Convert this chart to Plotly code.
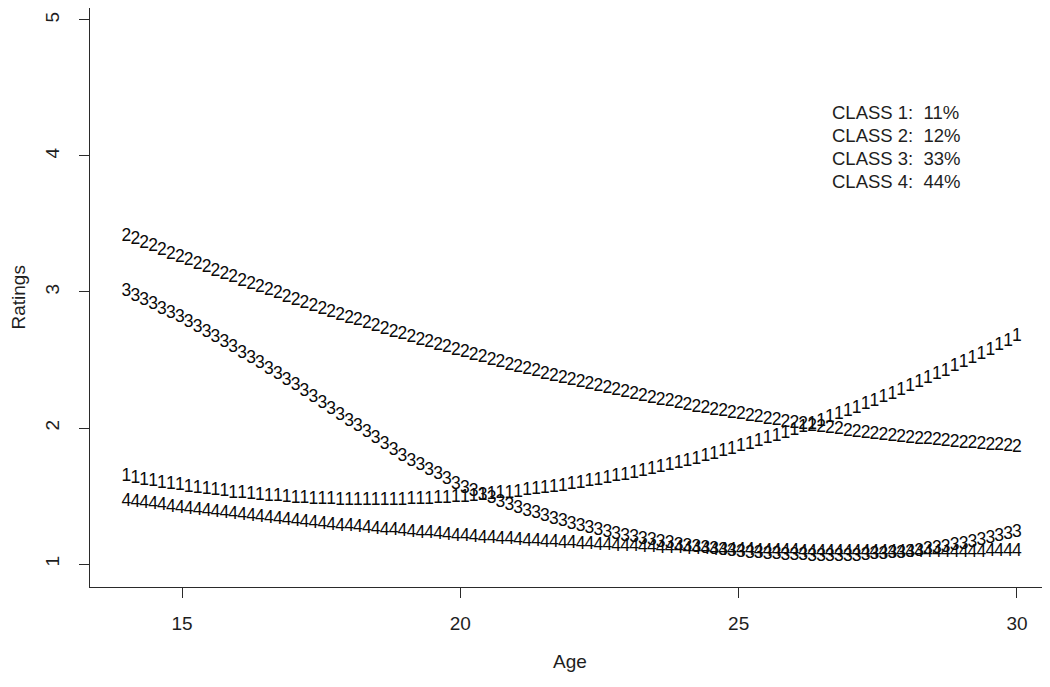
import plotly.graph_objects as go

# ages at which each class trajectory is printed
ages = [14, 14.16, 14.32, 14.48, 14.64, 14.8, 14.96, 15.12, 15.28, 15.44, 15.6, 15.76, 15.92,
        16.08, 16.24, 16.4, 16.56, 16.72, 16.88, 17.04, 17.2, 17.36, 17.52, 17.68, 17.84, 18,
        18.16, 18.32, 18.48, 18.64, 18.8, 18.96, 19.12, 19.28, 19.44, 19.6, 19.76, 19.92, 20.08,
        20.24, 20.4, 20.56, 20.72, 20.88, 21.04, 21.2, 21.36, 21.52, 21.68, 21.84, 22, 22.16,
        22.32, 22.48, 22.64, 22.8, 22.96, 23.12, 23.28, 23.44, 23.6, 23.76, 23.92, 24.08, 24.24,
        24.4, 24.56, 24.72, 24.88, 25.04, 25.2, 25.36, 25.52, 25.68, 25.84, 26, 26.16, 26.32,
        26.48, 26.64, 26.8, 26.96, 27.12, 27.28, 27.44, 27.6, 27.76, 27.92, 28.08, 28.24, 28.4,
        28.56, 28.72, 28.88, 29.04, 29.2, 29.36, 29.52, 29.68, 29.84, 30]

class1 = [1.640, 1.628, 1.616, 1.604, 1.593, 1.583, 1.573, 1.563, 1.554, 1.545, 1.537, 1.529,
          1.521, 1.515, 1.508, 1.502, 1.497, 1.492, 1.487, 1.483, 1.479, 1.476, 1.473, 1.471,
          1.469, 1.468, 1.467, 1.466, 1.466, 1.467, 1.467, 1.469, 1.471, 1.473, 1.476, 1.479,
          1.482, 1.487, 1.491, 1.496, 1.502, 1.508, 1.514, 1.521, 1.528, 1.536, 1.544, 1.553,
          1.562, 1.572, 1.582, 1.592, 1.603, 1.615, 1.626, 1.639, 1.652, 1.665, 1.679, 1.693,
          1.707, 1.722, 1.738, 1.754, 1.771, 1.787, 1.805, 1.823, 1.841, 1.860, 1.879, 1.899,
          1.919, 1.939, 1.960, 1.982, 2.004, 2.026, 2.049, 2.073, 2.096, 2.121, 2.145, 2.171,
          2.196, 2.222, 2.249, 2.276, 2.303, 2.331, 2.360, 2.389, 2.418, 2.448, 2.478, 2.509,
          2.540, 2.571, 2.603, 2.636, 2.669]

class2 = [3.410, 3.383, 3.357, 3.330, 3.304, 3.278, 3.252, 3.227, 3.202, 3.177, 3.152, 3.127,
          3.103, 3.079, 3.055, 3.031, 3.008, 2.985, 2.962, 2.939, 2.916, 2.894, 2.872, 2.850,
          2.829, 2.807, 2.786, 2.765, 2.745, 2.724, 2.704, 2.684, 2.664, 2.645, 2.625, 2.606,
          2.588, 2.569, 2.551, 2.532, 2.514, 2.497, 2.479, 2.462, 2.445, 2.428, 2.412, 2.395,
          2.379, 2.364, 2.348, 2.333, 2.317, 2.302, 2.288, 2.273, 2.259, 2.245, 2.231, 2.218,
          2.204, 2.191, 2.178, 2.166, 2.153, 2.141, 2.129, 2.117, 2.106, 2.095, 2.084, 2.073,
          2.062, 2.052, 2.042, 2.032, 2.022, 2.013, 2.004, 1.995, 1.986, 1.977, 1.969, 1.961,
          1.953, 1.946, 1.938, 1.931, 1.924, 1.918, 1.911, 1.905, 1.899, 1.893, 1.888, 1.882,
          1.877, 1.872, 1.868, 1.863, 1.859]

class3 = [3.000, 2.968, 2.936, 2.904, 2.872, 2.840, 2.808, 2.772, 2.736, 2.699, 2.662, 2.625,
          2.588, 2.550, 2.510, 2.470, 2.430, 2.390, 2.350, 2.309, 2.266, 2.223, 2.180, 2.136,
          2.093, 2.050, 2.007, 1.964, 1.920, 1.877, 1.834, 1.791, 1.755, 1.721, 1.688, 1.654,
          1.620, 1.587, 1.557, 1.532, 1.506, 1.480, 1.455, 1.429, 1.405, 1.386, 1.367, 1.348,
          1.328, 1.309, 1.290, 1.276, 1.261, 1.247, 1.232, 1.218, 1.204, 1.192, 1.180, 1.169,
          1.158, 1.147, 1.136, 1.126, 1.119, 1.112, 1.105, 1.098, 1.090, 1.084, 1.080, 1.076,
          1.072, 1.068, 1.064, 1.060, 1.059, 1.058, 1.058, 1.057, 1.056, 1.055, 1.058, 1.062,
          1.066, 1.070, 1.074, 1.078, 1.085, 1.094, 1.104, 1.114, 1.123, 1.133, 1.144, 1.158,
          1.172, 1.187, 1.201, 1.216, 1.230]

class4 = [1.460, 1.451, 1.443, 1.434, 1.426, 1.417, 1.409, 1.401, 1.393, 1.385, 1.377, 1.369,
          1.362, 1.354, 1.347, 1.340, 1.332, 1.325, 1.318, 1.311, 1.304, 1.298, 1.291, 1.285,
          1.278, 1.272, 1.266, 1.260, 1.254, 1.248, 1.242, 1.236, 1.231, 1.225, 1.220, 1.215,
          1.210, 1.205, 1.200, 1.195, 1.190, 1.185, 1.181, 1.176, 1.172, 1.168, 1.164, 1.160,
          1.156, 1.152, 1.148, 1.144, 1.141, 1.137, 1.134, 1.131, 1.128, 1.125, 1.122, 1.119,
          1.116, 1.114, 1.111, 1.109, 1.107, 1.104, 1.102, 1.100, 1.098, 1.097, 1.095, 1.093,
          1.092, 1.090, 1.089, 1.088, 1.087, 1.086, 1.085, 1.084, 1.084, 1.083, 1.083, 1.082,
          1.082, 1.082, 1.082, 1.082, 1.082, 1.082, 1.083, 1.083, 1.084, 1.084, 1.085, 1.086,
          1.087, 1.088, 1.089, 1.091, 1.092]

class_labels = ["1", "2", "3", "4"]
class_shares = ["CLASS 1:\u00a0\u00a011%", "CLASS 2:\u00a0\u00a012%",
                "CLASS 3:\u00a0\u00a033%", "CLASS 4:\u00a0\u00a044%"]

x_ticks = [15, 20, 25, 30]
y_ticks = [1, 2, 3, 4, 5]

FONT = "Liberation Sans, Arial, Helvetica, sans-serif"
INK = "#1e1e1e"

fig = go.Figure()

for lab, vals in zip(class_labels, [class1, class2, class3, class4]):
    fig.add_trace(go.Scatter(
        x=ages, y=vals, mode="text", text=[lab] * len(ages),
        textposition="middle center",
        textfont=dict(family=FONT, size=17.5, color="#0a0a0a"),
        showlegend=False, hoverinfo="skip",
    ))

# class share "legend" in the upper right
for k, txt in enumerate(class_shares):
    fig.add_annotation(
        xref="paper", yref="paper", x=0.7708, y=(579 - 105 - 22.7 * k) / 579,
        xanchor="left", yanchor="middle", showarrow=False, text=txt,
        font=dict(family=FONT, size=18.5, color=INK),
    )

fig.add_annotation(xref="paper", yref="paper", x=0.5, y=-0.1295, text="Age",
                   showarrow=False, xanchor="center", yanchor="middle",
                   font=dict(family=FONT, size=19, color=INK))
fig.add_annotation(xref="paper", yref="paper", x=-0.075, y=0.5, text="Ratings",
                   showarrow=False, textangle=-90, xanchor="center", yanchor="middle",
                   font=dict(family=FONT, size=19, color=INK))

axis_style = dict(
    showgrid=False, zeroline=False, showline=True, linecolor="#2a2a2a", linewidth=1.4,
    ticks="outside", ticklen=10, tickwidth=1.4, tickcolor="#2a2a2a",
    tickfont=dict(family=FONT, size=19, color=INK),
)

# page body adds an 8px offset, so the figure is sized/margined to compensate
fig.update_layout(
    width=1042, height=679,
    margin=dict(l=82, r=0, t=0, b=100, pad=0),
    paper_bgcolor="white", plot_bgcolor="white",
    xaxis=dict(range=[13.347, 30.593], tickvals=x_ticks, ticklabelstandoff=9, **axis_style),
    yaxis=dict(range=[0.831, 5.088], tickvals=y_ticks, tickangle=-90, ticklabelstandoff=12,
               **axis_style),
)

fig.write_html("out.html")
